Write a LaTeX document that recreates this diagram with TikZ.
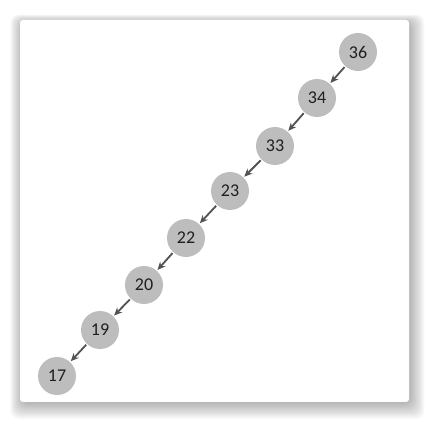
\documentclass[tikz,border=0pt]{standalone}
\usepackage{fontspec}
\setmainfont{Carlito}
\usetikzlibrary{arrows.meta}
\begin{document}
\begin{tikzpicture}[x=1pt,y=-1pt,
  keynode/.style={circle,fill=black!26,draw=none,minimum size=38pt,inner sep=0pt,font=\fontsize{18}{18}\selectfont,text=black!88},
  link/.style={-{Stealth[length=8pt,width=7pt]},draw=black!68,line width=1.8pt,shorten >=1pt,shorten <=1pt}]
\useasboundingbox (0,0) rectangle (429,422);
% shadow
\foreach \i in {1,...,14}{
  \fill[black,opacity=0.022,rounded corners=8pt] (20-\i*0.9+3,20-\i*0.6+3) rectangle (409+\i*1.1,402+\i*1.2);
}
\fill[white,rounded corners=3pt] (20,20) rectangle (409,402);
\node[keynode] (n36) at (358,52) {36};
\node[keynode] (n34) at (317,98) {34};
\node[keynode] (n33) at (275,146) {33};
\node[keynode] (n23) at (230,191) {23};
\node[keynode] (n22) at (186,238) {22};
\node[keynode] (n20) at (144,285) {20};
\node[keynode] (n19) at (100,330) {19};
\node[keynode] (n17) at (57,376) {17};
\draw[link] (n36) -- (n34);
\draw[link] (n34) -- (n33);
\draw[link] (n33) -- (n23);
\draw[link] (n23) -- (n22);
\draw[link] (n22) -- (n20);
\draw[link] (n20) -- (n19);
\draw[link] (n19) -- (n17);
\end{tikzpicture}
\end{document}
